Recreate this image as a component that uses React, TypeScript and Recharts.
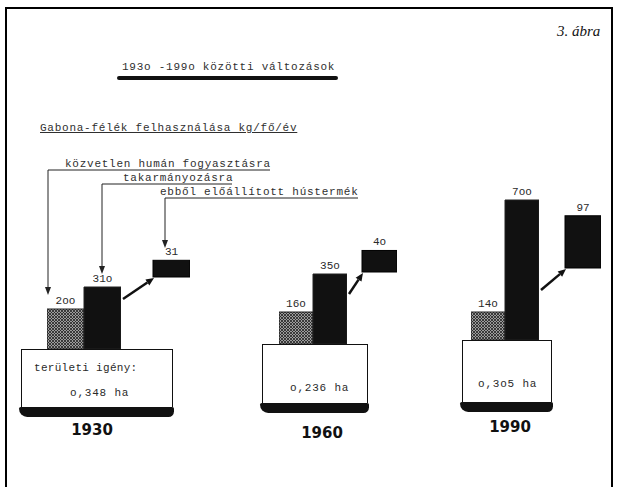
import React from 'react';
import { BarChart, Bar, XAxis, YAxis, Cell, LabelList } from 'recharts';

/* ─── DATA ─────────────────────────────────────── */
const YEARS = ['1930', '1960', '1990'];
const HUMAN = [200, 160, 140]; // közvetlen humán fogyasztásra, kg/fő/év
const FEED = [310, 350, 700]; // takarmányozásra
const MEAT = [31, 40, 97]; // ebből előállított hústermék
const LAND = [0.348, 0.236, 0.305]; // területi igény, ha
const SERIES_LABELS = ['közvetlen humán fogyasztásra', 'takarmányozásra', 'ebből előállított hústermék'];
const TITLE = '193o -199o közötti változások';
const SUBTITLE = 'Gabona-félék felhasználása kg/fő/év';

/* ─── LAYOUT ─────────────────────────────────────── */
const GH = 170; // grain chart height
const GRAIN_MAX = 850;
const LIFT = 72; // meat box floats this far above the platform
const MH = LIFT + 70;
const MEAT_MAX = 130;
const ARROW_RISE = 50;

const LAYOUT = [
  { base: 349, barLeft: 47, band: 37, gap: 32, meatW: 37, plat: [21, 152, 58], textX: 70, yearX: 92, yearY: 430 },
  { base: 344, barLeft: 279, band: 34, gap: 15, meatW: 35, plat: [262, 106, 59], textX: 290, yearX: 322, yearY: 433 },
  { base: 340, barLeft: 471, band: 34, gap: 26, meatW: 36, plat: [462, 90, 62], textX: 478, yearX: 510, yearY: 427 },
];

const MONO = '"Liberation Mono", "DejaVu Sans Mono", monospace';
const tw = (v: any) => String(v).replace(/0/g, 'o');
const haText = (v: number) => tw(v.toFixed(3).replace('.', ',')) + ' ha';

const labelProps = { fill: '#2a2a2a', fontSize: 11, fontFamily: MONO };

/* ─── MEAT BOX + ARROW ─────────────────────────────────────── */
const MeatBox = (p: any) => {
  const { x, y, width, height, gap } = p;
  const sx = x - gap + 2;
  const sy = y + height + LIFT - ARROW_RISE;
  const ex = x + 1;
  const ey = y + height + 1;
  const dx = ex - sx, dy = ey - sy;
  const len = Math.sqrt(dx * dx + dy * dy);
  const ux = dx / len, uy = dy / len;
  const bx = ex - ux * 8, by = ey - uy * 8;
  return (
    <g>
      <rect x={x} y={y} width={width} height={height} fill="#111" stroke="#000" />
      <line x1={sx} y1={sy} x2={bx} y2={by} stroke="#111" strokeWidth={2.5} />
      <polygon
        points={`${ex},${ey} ${bx - uy * 3.5},${by + ux * 3.5} ${bx + uy * 3.5},${by - ux * 3.5}`}
        fill="#111"
      />
    </g>
  );
};

const GrainChart = ({ i }: { i: number }) => {
  const g = LAYOUT[i];
  const data = [
    { name: 'human', value: HUMAN[i] },
    { name: 'feed', value: FEED[i] },
  ];
  return (
    <div style={{ position: 'absolute', left: g.barLeft, top: g.base - GH }}>
      <BarChart width={2 * g.band} height={GH} data={data} margin={{ top: 0, right: 0, bottom: 0, left: 0 }} barCategoryGap={0}>
        <XAxis dataKey="name" hide />
        <YAxis hide domain={[0, GRAIN_MAX]} />
        <Bar dataKey="value" isAnimationActive={false} stroke="#222" strokeWidth={1}>
          <Cell fill="url(#hatch)" />
          <Cell fill="#111" />
          <LabelList dataKey="value" position="top" offset={5} formatter={tw} {...labelProps} style={labelProps} />
        </Bar>
      </BarChart>
    </div>
  );
};

const MeatChart = ({ i }: { i: number }) => {
  const g = LAYOUT[i];
  const data = [{ name: 'meat', value: MEAT[i] }];
  return (
    <div style={{ position: 'absolute', left: g.barLeft + 2 * g.band, top: g.base - MH }}>
      <BarChart width={g.gap + g.meatW} height={MH} data={data} margin={{ top: 0, right: 0, bottom: LIFT, left: g.gap }} barCategoryGap={0}>
        <XAxis dataKey="name" hide />
        <YAxis hide domain={[0, MEAT_MAX]} />
        <Bar dataKey="value" isAnimationActive={false} fill="#111" shape={(p: any) => <MeatBox {...p} gap={g.gap} />}>
          <LabelList dataKey="value" position="top" offset={5} formatter={tw} {...labelProps} style={labelProps} />
        </Bar>
      </BarChart>
    </div>
  );
};

const Platform = ({ i }: { i: number }) => {
  const g = LAYOUT[i];
  const [left, w, h] = g.plat;
  return (
    <>
      <div style={{
        position: 'absolute', left, top: g.base, width: w, height: h, boxSizing: 'border-box',
        background: '#fff', border: '1.5px solid #111', borderBottom: 'none',
      }} />
      <div style={{
        position: 'absolute', left: left - 2, top: g.base + h, width: w + 3, height: 10,
        background: '#111', borderRadius: '2px 2px 6px 9px',
      }} />
      {i === 0 && (
        <div style={{ position: 'absolute', left: 34, top: 362, fontFamily: MONO, fontSize: 11, letterSpacing: 0.3, color: '#2a2a2a', lineHeight: '12px', whiteSpace: 'pre' }}>
          területi igény:
        </div>
      )}
      <div style={{
        position: 'absolute', left: g.textX, top: g.base + 38,
        fontFamily: MONO, fontSize: 11, letterSpacing: 0.8, color: '#2a2a2a', lineHeight: '12px', whiteSpace: 'pre',
      }}>
        {haText(LAND[i])}
      </div>
      <div style={{
        position: 'absolute', left: g.yearX - 40, width: 80, top: g.yearY - 9, textAlign: 'center',
        fontFamily: '"DejaVu Sans", sans-serif', fontWeight: 700, fontSize: 15, color: '#111', lineHeight: '18px',
      }}>
        {YEARS[i]}
      </div>
    </>
  );
};

const textStyle: React.CSSProperties = {
  position: 'absolute', fontFamily: MONO, fontSize: 11, letterSpacing: 0.75, color: '#2f2f2f',
  lineHeight: '12px', whiteSpace: 'pre',
};

const Arrow = ({ x, y }: { x: number; y: number }) => (
  <polygon points={`${x},${y} ${x - 3},${y - 8} ${x + 3},${y - 8}`} fill="#222" />
);

export default function App() {
  return (
    <div style={{ position: 'absolute', left: 0, top: 0, width: 618, height: 487, background: '#fff', overflow: 'hidden' }}>
      <svg width={0} height={0} style={{ position: 'absolute' }}>
        <defs>
          <pattern id="hatch" width={3} height={3} patternUnits="userSpaceOnUse">
            <rect width={3} height={3} fill="#9c9c9c" />
            <path d="M0,0 L3,3 M3,0 L0,3" stroke="#222" strokeWidth={0.8} />
          </pattern>
        </defs>
      </svg>

      {/* frame */}
      <div style={{ position: 'absolute', left: 5, top: 7, width: 608, height: 500, boxSizing: 'border-box', border: '2px solid #000', borderBottom: 'none' }} />

      <div style={{ position: 'absolute', left: 557, top: 23, fontFamily: '"Liberation Serif", serif', fontStyle: 'italic', fontSize: 15, color: '#111' }}>
        3. ábra
      </div>

      {/* title */}
      <div style={{ ...textStyle, left: 122, top: 61 }}>{TITLE}</div>
      <div style={{ position: 'absolute', left: 117, top: 76, width: 221, height: 4, background: '#111', borderRadius: 2 }} />

      <div style={{ ...textStyle, left: 40, top: 122, textDecoration: 'underline' }}>{SUBTITLE}</div>

      {/* series annotations */}
      <div style={{ ...textStyle, left: 65, top: 158 }}>{SERIES_LABELS[0]}</div>
      <div style={{ ...textStyle, left: 123, top: 172 }}>{SERIES_LABELS[1]}</div>
      <div style={{ ...textStyle, left: 160, top: 186 }}>{SERIES_LABELS[2]}</div>
      <svg width={618} height={487} style={{ position: 'absolute', left: 0, top: 0 }}>
        <path d="M270,170 H48 V287" fill="none" stroke="#222" strokeWidth={1} />
        <Arrow x={48} y={295} />
        <path d="M232,184 H102 V266" fill="none" stroke="#222" strokeWidth={1} />
        <Arrow x={102} y={274} />
        <path d="M358,198 H165 V240" fill="none" stroke="#222" strokeWidth={1} />
        <Arrow x={165} y={248} />
      </svg>

      {YEARS.map((_, i) => (
        <React.Fragment key={i}>
          <Platform i={i} />
          <GrainChart i={i} />
          <MeatChart i={i} />
        </React.Fragment>
      ))}
    </div>
  );
}
